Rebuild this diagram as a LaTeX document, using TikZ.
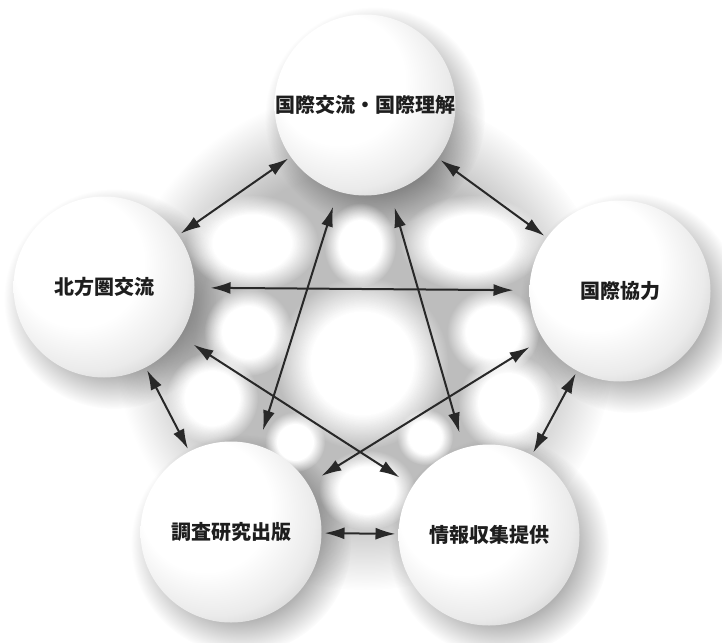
\documentclass[tikz,border=0pt]{standalone}
\usepackage{fontspec}
\newfontfamily\jpfont{Noto Sans CJK JP}
\usetikzlibrary{arrows.meta, calc}
\usetikzlibrary{fadings, backgrounds}
\definecolor{qdark}{RGB}{40,40,40}
\definecolor{qtext}{RGB}{30,30,30}

% sphere look and soft shadows
\pgfdeclareradialshading{globeshade}{\pgfpoint{-11bp}{11bp}}{color(0bp)=(white); color(18bp)=(white); color(28bp)=(black!8); color(38bp)=(black!26); color(50bp)=(black!28)}
\pgfdeclareradialshading{halofade}{\pgfpointorigin}{color(0bp)=(white); color(17bp)=(white); color(25bp)=(black); color(50bp)=(black)}
\pgfdeclarefading{halo}{\pgfuseshading{halofade}}
\pgfdeclareradialshading{blobfade}{\pgfpointorigin}{color(0bp)=(white); color(15bp)=(white); color(25bp)=(black); color(50bp)=(black)}
\pgfdeclarefading{blob}{\pgfuseshading{blobfade}}

\tikzset{
  globe/.style={circle, minimum size=181pt, inner sep=0pt, outer sep=3pt,
    shade, shading=globeshade, text=qtext, font=\jpfont\bfseries\fontsize{20}{24}\selectfont},
  link/.style={{Latex[length=20pt,width=12pt]}-{Latex[length=20pt,width=12pt]}, line width=2pt, color=qdark},
  cross/.style={link, shorten >=13pt, shorten <=13pt}
}

\begin{document}
\begin{tikzpicture}[x=1pt, y=-1pt]
\useasboundingbox (0,0) rectangle (722,642);

\node[globe] (inter) at (365,105) {国際交流・国際理解};
\node[globe] (hoppo) at (104,287) {北方圏交流};
\node[globe] (kyoryoku) at (620,291) {国際協力};
\node[globe] (chosa) at (231,532) {調査研究出版};
\node[globe] (joho) at (489,535) {情報収集提供};

\begin{scope}[on background layer]
\fill[black, fill opacity=0.26, path fading=halo] (365,340) circle (250pt);
\foreach \n in {inter, hoppo, kyoryoku, chosa, joho}
  \fill[black, fill opacity=0.3, path fading=halo] ($(\n)+(10,12)$) circle (110pt);
%\fill[red] (inter) circle(3pt);
\foreach \x/\y/\rx/\ry in {252/243/66/48, 360/245/36/42, 472/243/72/48, 248/332/44/44, 493/332/46/44,
                   362/363/86/86, 212/398/46/46, 508/403/50/50, 295/442/30/30, 425/437/28/28, 367/490/48/40}
  \fill[white, path fading=blob] (\x,\y) ellipse ({\rx pt} and {\ry pt});
\end{scope}

% sides of the pentagon
\draw[link] (inter) -- (hoppo);
\draw[link] (inter) -- (kyoryoku);
\draw[link] (hoppo) -- (chosa);
\draw[link] (kyoryoku) -- (joho);
\draw[link] (chosa) -- (joho);

% the star
\draw[cross] (hoppo) -- (kyoryoku);
\draw[cross] (inter) -- (chosa);
\draw[cross] (inter) -- (joho);
\draw[cross] (hoppo) -- (joho);
\draw[cross] (kyoryoku) -- (chosa);
\end{tikzpicture}
\end{document}
